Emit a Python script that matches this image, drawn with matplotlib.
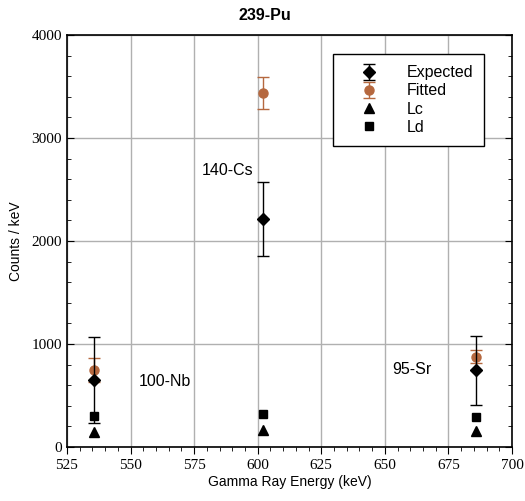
import matplotlib
matplotlib.use('Agg')
import matplotlib.pyplot as plt
from matplotlib.ticker import MultipleLocator

# gamma line energies (keV)
energies = [535.7, 602.2, 685.8]
labels = ['100-Nb', '140-Cs', '95-Sr']
label_pos = [(563.5, 635), (588.3, 2685), (660.7, 750)]

expected = [650, 2215, 745]
expected_err = [420, 360, 335]
fitted = [750, 3435, 875]
fitted_err = [115, 155, 62]
lc = [150, 165, 158]
ld = [298, 320, 295]

FIT_COLOR = '#b5683f'

fig = plt.figure(figsize=(5.25, 5.01), dpi=100)
ax = fig.add_axes([0.1276, 0.1078, 0.8476, 0.8222])

ax.grid(True, color='#b0b0b0', linewidth=1.0, zorder=0)

h_exp = ax.errorbar(energies, expected, yerr=expected_err, fmt='D', color='black',
                    ecolor='black', elinewidth=1, capsize=4, capthick=1,
                    markersize=6.5, label='Expected', zorder=4)
h_fit = ax.errorbar(energies, fitted, yerr=fitted_err, fmt='o', color=FIT_COLOR,
                    ecolor=FIT_COLOR, elinewidth=1, capsize=4, capthick=1,
                    markersize=6.5, label='Fitted', zorder=3)
h_lc, = ax.plot(energies, lc, '^', color='black', markersize=7.5, linestyle='none',
                label='Lc', zorder=3)
h_ld, = ax.plot(energies, ld, 's', color='black', markersize=6, linestyle='none',
                label='Ld', zorder=3)

# peak labels
for txt, (x, y) in zip(labels, label_pos):
    ax.text(x, y, txt, fontsize=11.5, family='Liberation Sans', va='center', ha='center')

ax.set_xlim(525, 700)
ax.set_ylim(0, 4000)
ax.xaxis.set_major_locator(MultipleLocator(25))
ax.xaxis.set_minor_locator(MultipleLocator(5))
ax.yaxis.set_major_locator(MultipleLocator(1000))
ax.yaxis.set_minor_locator(MultipleLocator(200))

ax.tick_params(axis='x', which='both', direction='out', top=False)
ax.tick_params(axis='x', which='major', length=5)
ax.tick_params(axis='x', which='minor', length=3)
ax.tick_params(axis='y', which='both', direction='in', right=True)
ax.tick_params(axis='y', which='major', length=5)
ax.tick_params(axis='y', which='minor', length=3)
for lbl in ax.get_xticklabels() + ax.get_yticklabels():
    lbl.set_family('Liberation Serif')
    lbl.set_fontsize(11)

for sp in ax.spines.values():
    sp.set_linewidth(1.2)

ax.set_xlabel('Gamma Ray Energy (keV)', fontsize=10, family='Liberation Sans', labelpad=2)
ax.set_ylabel('Counts / keV', fontsize=10, family='Liberation Sans', labelpad=6)
fig.suptitle('239-Pu', x=0.505, y=0.985, fontsize=11.5, fontweight='bold',
             family='Liberation Sans', va='top')

leg = ax.legend([h_exp, h_fit, h_lc, h_ld], ['Expected', 'Fitted', 'Lc', 'Ld'],
                loc='upper left', bbox_to_anchor=(0.598, 0.954), fancybox=False,
                edgecolor='black', framealpha=1, prop={'family': 'Liberation Sans', 'size': 11.5},
                handlelength=3.1, handletextpad=0.8, borderpad=0.7, labelspacing=0.2,
                borderaxespad=0)
leg.get_frame().set_linewidth(1.0)
leg.set_zorder(10)

fig.savefig('out.png', dpi=100)
